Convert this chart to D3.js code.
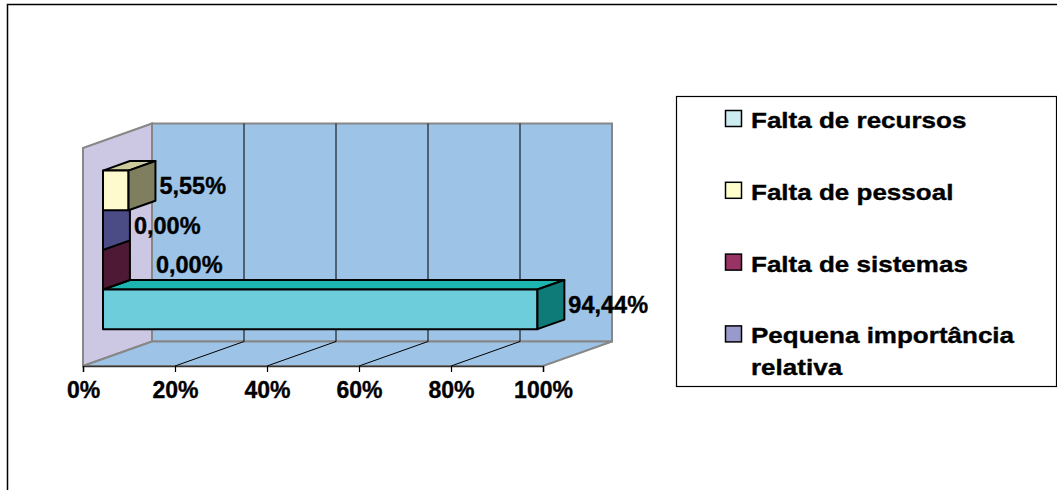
<!DOCTYPE html>
<html>
<head>
<meta charset="utf-8">
<script src="https://cdn.jsdelivr.net/npm/d3@7"></script>
<style>
  html, body { margin: 0; padding: 0; background: #fff; }
  svg { display: block; font-family: "Liberation Sans", Arial, sans-serif; }
  svg text { stroke: #000; stroke-width: 0.35px; }
</style>
</head>
<body>
<svg id="chart" width="1057" height="490"></svg>
<script>
// Reasons, drawn top to bottom in the bar group
const categories = ["Falta de pessoal", "Pequena importância relativa", "Falta de sistemas", "Falta de recursos"];
const values = [5.55, 0.00, 0.00, 94.44];
// Legend entries in their listed order
const legendItems = ["Falta de recursos", "Falta de pessoal", "Falta de sistemas", "Pequena importância relativa"];
const tickValues = [0, 20, 40, 60, 80, 100];

// Face colours of each 3D bar: front, top, end
const barColors = {
  "Falta de recursos":            { front: "#6dcddb", top: "#1db5b0", end: "#0f7b78" },
  "Falta de pessoal":             { front: "#fffacd", top: "#cbcb9c", end: "#7f7f60" },
  "Falta de sistemas":            { front: "#993366", top: "#66223f", end: "#4e1934" },
  "Pequena importância relativa": { front: "#9999cc", top: "#6b6ba3", end: "#4b4b86" }
};
const legendColors = {
  "Falta de recursos": "#ccecf0",
  "Falta de pessoal": "#ffffcc",
  "Falta de sistemas": "#993366",
  "Pequena importância relativa": "#9999cc"
};

const svg = d3.select("#chart");
const font = "'Liberation Sans', Arial, sans-serif";

// Outer frame
svg.append("rect")
  .attr("x", 7.5).attr("y", 4.5).attr("width", 1080).attr("height", 520)
  .attr("fill", "#fff").attr("stroke", "#000").attr("stroke-width", 1.5);

// Front plane of the 3D plot and its depth offset
const frame = { left: 83, right: 543, top: 148, bottom: 366 };
const depth = { dx: 69, dy: -24.5 };
const barDepth = [0.29, 0.68];   // bar front / back as a fraction of the depth
const gapWidth = 1.5;            // gap between groups, in bar widths

const x = d3.scaleLinear().domain([0, 100]).range([frame.left, frame.right]);
const y = d3.scaleBand().domain(categories)
  .range([frame.top, frame.bottom])
  .paddingInner(0).paddingOuter(gapWidth / 2);

const off = t => [depth.dx * t, depth.dy * t];
const pts = arr => arr.map(p => p.join(",")).join(" ");

const wallFill = "#9dc3e6", sideFill = "#ccc8e4", wallStroke = "#878787";

// Side wall
svg.append("polygon")
  .attr("points", pts([
    [frame.left, frame.top], [frame.left + depth.dx, frame.top + depth.dy],
    [frame.left + depth.dx, frame.bottom + depth.dy], [frame.left, frame.bottom]]))
  .attr("fill", sideFill).attr("stroke", wallStroke).attr("stroke-width", 2);

// Back wall
svg.append("rect")
  .attr("x", frame.left + depth.dx).attr("y", frame.top + depth.dy)
  .attr("width", frame.right - frame.left).attr("height", frame.bottom - frame.top)
  .attr("fill", wallFill).attr("stroke", wallStroke).attr("stroke-width", 2);

// Floor
svg.append("polygon")
  .attr("points", pts([
    [frame.left, frame.bottom], [frame.right, frame.bottom],
    [frame.right + depth.dx, frame.bottom + depth.dy], [frame.left + depth.dx, frame.bottom + depth.dy]]))
  .attr("fill", wallFill).attr("stroke", wallStroke).attr("stroke-width", 2);

// Gridlines on the back wall and the floor
const inner = tickValues.filter(v => v > 0 && v < 100);
svg.append("g").selectAll("line").data(inner).join("line")
  .attr("x1", d => x(d) + depth.dx).attr("x2", d => x(d) + depth.dx)
  .attr("y1", frame.top + depth.dy).attr("y2", frame.bottom + depth.dy)
  .attr("stroke", "#000").attr("stroke-width", 1);
svg.append("g").selectAll("line").data(inner).join("line")
  .attr("x1", d => x(d)).attr("x2", d => x(d) + depth.dx)
  .attr("y1", frame.bottom).attr("y2", frame.bottom + depth.dy)
  .attr("stroke", "#000").attr("stroke-width", 1);

// X axis along the front edge of the floor
const axis = svg.append("g")
  .attr("transform", `translate(0,${frame.bottom})`)
  .call(d3.axisBottom(x).tickValues(tickValues).tickSize(6).tickPadding(10)
    .tickFormat(d => d + "%"));
axis.select(".domain").attr("stroke", "#333").attr("stroke-width", 1.5);
axis.selectAll(".tick line").attr("stroke", "#000").attr("stroke-width", 1.2);
axis.selectAll(".tick text")
  .attr("font-family", font).attr("font-size", 23).attr("font-weight", "bold").attr("fill", "#000");

// 3D bars, drawn from the bottom row upward
const [f, b] = [off(barDepth[0]), off(barDepth[1])];
const bw = y.bandwidth();
const rows = categories.map((c, i) => ({ cat: c, value: values[i] })).reverse();
const barsG = svg.append("g");
rows.forEach(d => {
  const x0 = x(0), x1 = x(d.value), y0 = y(d.cat);
  const col = barColors[d.cat];
  const g = barsG.append("g").attr("stroke", "#000").attr("stroke-width", 2).attr("stroke-linejoin", "round");
  if (d.value > 0) {
    g.append("polygon").attr("fill", col.top).attr("points", pts([
      [x0 + f[0], y0 + f[1]], [x1 + f[0], y0 + f[1]], [x1 + b[0], y0 + b[1]], [x0 + b[0], y0 + b[1]]]));
    g.append("rect").attr("fill", col.front)
      .attr("x", x0 + f[0]).attr("y", y0 + f[1]).attr("width", x1 - x0).attr("height", bw);
  }
  g.append("polygon").attr("fill", col.end).attr("points", pts([
    [x1 + f[0], y0 + f[1]], [x1 + b[0], y0 + b[1]], [x1 + b[0], y0 + bw + b[1]], [x1 + f[0], y0 + bw + f[1]]]));
});

// Value labels next to the bar ends
const pt = d3.formatLocale({ decimal: ",", thousands: ".", grouping: [3], currency: ["", ""] });
const fmt = v => pt.format(".2f")(v) + "%";
const labelShift = { "Falta de sistemas": 22 };
svg.append("g").selectAll("text").data(rows).join("text")
  .attr("x", d => x(d.value) + b[0] + 4 + (labelShift[d.cat] || 0))
  .attr("y", d => y(d.cat) + bw / 2 + (f[1] + b[1]) / 2)
  .attr("dy", "0.36em")
  .attr("font-family", font).attr("font-size", 23.5).attr("font-weight", "bold").attr("fill", "#000")
  .text(d => fmt(d.value));

// Legend
svg.append("rect")
  .attr("x", 676.5).attr("y", 96.5).attr("width", 380).attr("height", 290)
  .attr("fill", "#fff").attr("stroke", "#000").attr("stroke-width", 1.2);
const legendTop = 128, legendStep = 71.8;
legendItems.forEach((name, i) => {
  const base = legendTop + i * legendStep;
  svg.append("rect")
    .attr("x", 725.5).attr("y", base - 17.5).attr("width", 16).attr("height", 16)
    .attr("fill", legendColors[name]).attr("stroke", "#000").attr("stroke-width", 1.5);
  const lines = name === "Pequena importância relativa" ? ["Pequena importância", "relativa"] : [name];
  lines.forEach((line, j) => {
    svg.append("text")
      .attr("transform", `translate(751,${base + j * 32}) scale(1.21,1)`)
      .attr("font-family", font).attr("font-size", 21.5).attr("font-weight", "bold").attr("fill", "#000")
      .text(line);
  });
});
</script>
</body>
</html>
